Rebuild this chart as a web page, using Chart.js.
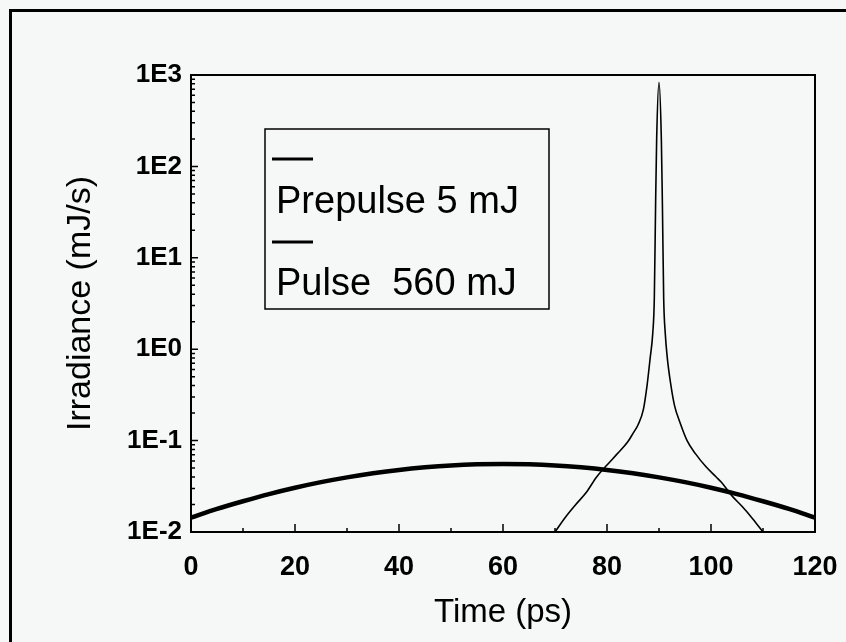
<!DOCTYPE html>
<html><head><meta charset="utf-8">
<script src="https://cdn.jsdelivr.net/npm/chart.js@4.4.1/dist/chart.umd.min.js"></script>
<style>
html,body{margin:0;padding:0;background:#f6f8f7;}
#wrap{position:relative;width:846px;height:642px;overflow:hidden;background:#f6f8f7;}
#frame{position:absolute;left:9px;top:9px;width:900px;height:700px;border-left:3px solid #000;border-top:3px solid #000;}
canvas{position:absolute;left:0;top:0;}
</style></head><body>
<div id="wrap"><div id="frame"></div><canvas id="c" width="846" height="642"></canvas></div>
<script>
// ---- data ----
const prepulseTime   = [0, 5, 10, 15, 20, 25, 30, 35, 40, 45, 50, 55, 60, 65, 70, 75, 80, 85, 90, 95, 100, 105, 110, 115, 120];
const prepulseValues = [0.0144, 0.0179, 0.0217, 0.0260, 0.0305, 0.0351, 0.0396, 0.0439, 0.0478, 0.0510, 0.0535, 0.0550, 0.0555,
                        0.0550, 0.0535, 0.0510, 0.0478, 0.0439, 0.0396, 0.0351, 0.0305, 0.0260, 0.0217, 0.0179, 0.0144];
const pulseTime   = [70, 72, 74, 76, 78, 80, 82, 84, 85, 86, 87, 87.7, 88.3, 88.8, 89.1, 89.35, 89.55, 90,
                     90.45, 90.65, 90.9, 91.2, 91.6, 92.3, 93, 94, 95.4, 97, 99, 101, 102, 104, 106, 108, 110];
const pulseValues = [0.010, 0.0145, 0.020, 0.027, 0.040, 0.054, 0.072, 0.097, 0.12, 0.15, 0.22, 0.40, 0.8, 1.5, 3.6, 40, 200, 830,
                     200, 40, 3.6, 1.5, 0.8, 0.40, 0.24, 0.16, 0.10, 0.072, 0.052, 0.040, 0.035, 0.025, 0.019, 0.014, 0.010];
const seriesLabels = ['Prepulse 5 mJ', 'Pulse  560 mJ'];
const xTicks = [0, 20, 40, 60, 80, 100, 120];
const xMinorTicks = [10, 30, 50, 70, 90, 110];
const yTicks = [0.01, 0.1, 1, 10, 100, 1000];
const yTickLabels = ['1E-2', '1E-1', '1E0', '1E1', '1E2', '1E3'];
const xTitle = 'Time (ps)';
const yTitle = 'Irradiance (mJ/s)';

const FONT = '"Liberation Sans", Arial, sans-serif';

const decorPlugin = {
  id: 'decor',
  afterDatasetsDraw(chart) {
    const {ctx, chartArea: a, scales: {x, y}} = chart;
    ctx.save();
    ctx.strokeStyle = '#000';
    ctx.lineWidth = 2;
    ctx.strokeRect(a.left, a.top, a.right - a.left, a.bottom - a.top);
    // inward ticks
    ctx.lineWidth = 1.5;
    ctx.beginPath();
    xTicks.forEach(v => { const p = x.getPixelForValue(v); ctx.moveTo(p, a.bottom); ctx.lineTo(p, a.bottom - 8); });
    xMinorTicks.forEach(v => { const p = x.getPixelForValue(v); ctx.moveTo(p, a.bottom); ctx.lineTo(p, a.bottom - 4); });
    yTicks.forEach((v, i) => {
      const p = y.getPixelForValue(v); ctx.moveTo(a.left, p); ctx.lineTo(a.left + 7, p);
      if (i < yTicks.length - 1) {
        for (let m = 2; m <= 9; m++) {
          const q = y.getPixelForValue(v * m); ctx.moveTo(a.left, q); ctx.lineTo(a.left + 4, q);
        }
      }
    });
    ctx.stroke();
    // legend
    const lx = 265, ly = 129, lw = 284, lh = 180;
    ctx.fillStyle = '#f6f8f7';
    ctx.fillRect(lx, ly, lw, lh);
    ctx.lineWidth = 1.5;
    ctx.strokeRect(lx, ly, lw, lh);
    const rows = [{line: 159, base: 213}, {line: 242, base: 295}];
    chart.data.datasets.forEach((ds, i) => {
      ctx.strokeStyle = ds.borderColor;
      ctx.lineWidth = 3;
      ctx.beginPath(); ctx.moveTo(272, rows[i].line); ctx.lineTo(313, rows[i].line); ctx.stroke();
      ctx.fillStyle = '#000';
      ctx.font = '38px ' + FONT;
      ctx.textBaseline = 'alphabetic';
      ctx.textAlign = 'left';
      ctx.fillText(ds.label, 276, rows[i].base);
    });
    ctx.restore();
  }
};

new Chart(document.getElementById('c'), {
  type: 'line',
  data: {
    datasets: [
      {label: seriesLabels[0], data: prepulseTime.map((t, i) => ({x: t, y: prepulseValues[i]})),
       borderColor: '#000', borderWidth: 4.5, pointRadius: 0, tension: 0.3, fill: false},
      {label: seriesLabels[1], data: pulseTime.map((t, i) => ({x: t, y: pulseValues[i]})),
       borderColor: '#000', borderWidth: 1.6, pointRadius: 0, cubicInterpolationMode: 'monotone', fill: false}
    ]
  },
  options: {
    responsive: false, animation: false,
    layout: {padding: {left: 0, top: 75, right: 31, bottom: 0}},
    plugins: {legend: {display: false}, tooltip: {enabled: false}},
    scales: {
      x: {
        type: 'linear', min: 0, max: 120,
        afterBuildTicks: s => { s.ticks = xTicks.map(v => ({value: v})); },
        afterFit: s => { s.height = 110; s.paddingLeft = 0; s.paddingRight = 0; },
        ticks: {color: '#000', font: {family: FONT, size: 27, weight: 'bold'}, padding: 19, maxRotation: 0, autoSkip: false},
        grid: {display: false, drawTicks: false},
        border: {display: false},
        title: {display: true, text: xTitle, color: '#000', font: {family: FONT, size: 33}, padding: {top: 0, bottom: 9}}
      },
      y: {
        type: 'logarithmic', min: 0.01, max: 1000,
        afterBuildTicks: s => { s.ticks = yTicks.map(v => ({value: v})); },
        afterFit: s => { s.width = 191; s.paddingTop = 0; s.paddingBottom = 0; },
        ticks: {color: '#000', font: {family: FONT, size: 26, weight: 'bold'}, padding: 9, autoSkip: false,
                callback: v => { const i = yTicks.indexOf(v); return i >= 0 ? yTickLabels[i] : ''; }},
        grid: {display: false, drawTicks: false},
        border: {display: false},
        title: {display: true, text: yTitle, color: '#000', font: {family: FONT, size: 34}, padding: {top: 60, bottom: 0}}
      }
    }
  },
  plugins: [decorPlugin]
});
</script>
</body></html>
